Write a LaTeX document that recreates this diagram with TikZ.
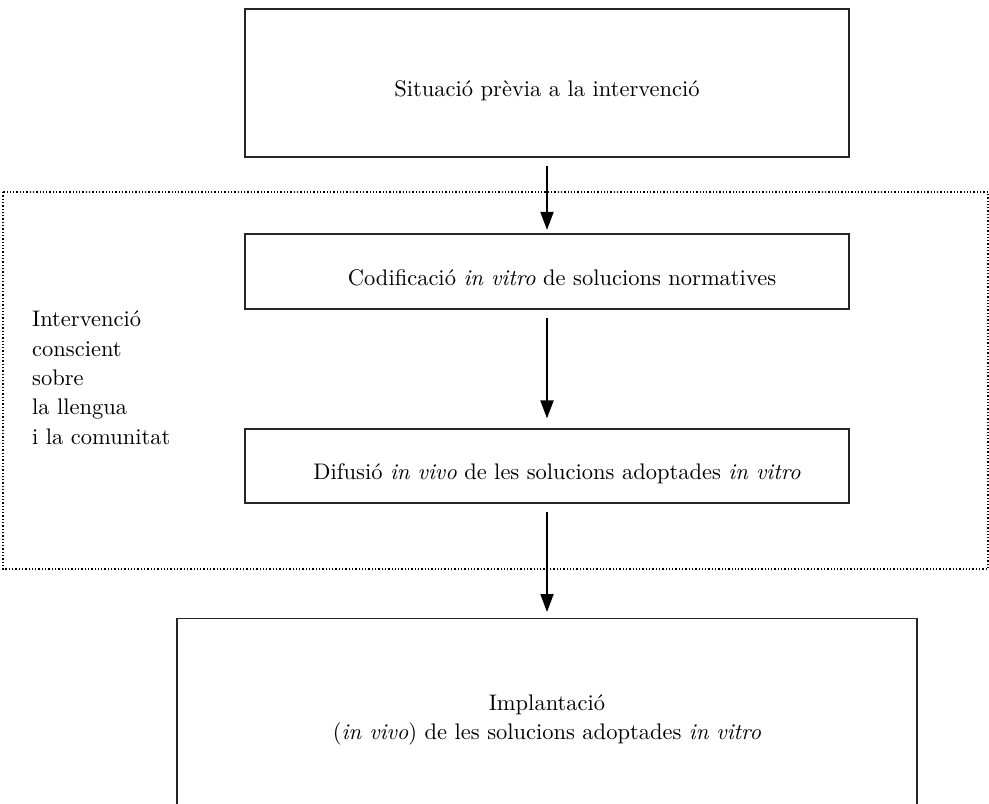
\documentclass[tikz,border=0pt]{standalone}
\usepackage{fontspec}
\setmainfont{lmroman10-regular}[Extension = .otf, ItalicFont = lmroman10-italic]
\usetikzlibrary{arrows.meta}
\tikzset{
    lletra/.style = {font = \fontsize{22.5}{29.3}\selectfont},
    caixa/.style = {lletra, draw = black!85, line width = 1.2pt, minimum width = 604pt},
    baix/.style = {text height = #1, text depth = 14pt},
    fletxa/.style = {-{Triangle[length = 18pt, width = 13pt]}, line width = 2pt, shorten < = 8.5pt, shorten > = 3.5pt},
    zona/.style = {line width = 1.3pt, dash pattern = on 1.3pt off 2pt},
}
\begin{document}
\begin{tikzpicture}[x = 1pt, y = -1pt]
        \useasboundingbox (0, 0) rectangle (989, 804);
        \draw [zona] (3, 192) rectangle (988, 569);

        \node [caixa, baix = 40pt, minimum height = 148pt] (prev) at (547, 83) {Situació prèvia a la intervenció};
        \node [caixa, baix = 42pt, minimum height = 75pt] (cod) at (547, 271.5) {\hspace*{30pt}Codificació \textit{in vitro} de solucions normatives};
        \node [caixa, baix = 40pt, minimum height = 74pt] (dif) at (547, 466) {\hspace*{20pt}Difusió \textit{in vivo} de les solucions adoptades \textit{in vitro}};
        \node [caixa, minimum width = 740pt, minimum height = 203pt, align = center, anchor = north] (imp) at (547, 618) {Implantació\\(\textit{in vivo}) de les solucions adoptades \textit{in vitro}};
        \node [lletra, align = left, anchor = base west, inner sep = 0pt] (nota) at (32, 444) {Intervenció\\conscient\\sobre\\la llengua\\i la comunitat};

        \path
            (prev) edge [fletxa] (cod)
            (cod) edge [fletxa, shorten > = 10pt] (dif)
            (dif) edge [fletxa, shorten > = 6pt] (imp)
        ;
    \end{tikzpicture}
\end{document}
